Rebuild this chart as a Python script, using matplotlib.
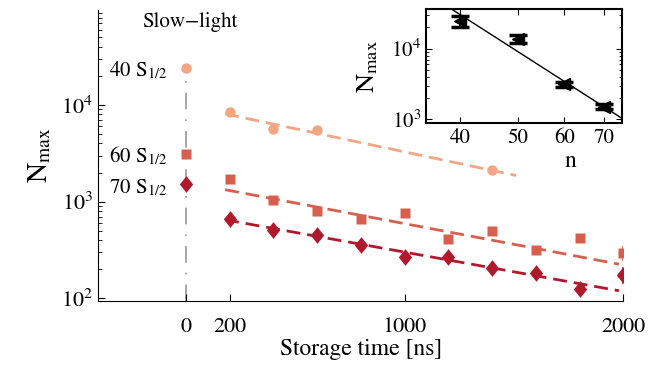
import numpy as np
import matplotlib
matplotlib.use("Agg")
import matplotlib.pyplot as plt
from matplotlib.ticker import NullLocator, FixedLocator, FixedFormatter

plt.rcParams['font.family'] = ['STIXGeneral', 'DejaVu Serif']
plt.rcParams['mathtext.fontset'] = 'stix'

# slow-light values (t = 0) for 40, 60, 70 S1/2
slow_labels = ['40 S$_{1/2}$', '60 S$_{1/2}$', '70 S$_{1/2}$']
slow_N = [24400, 3130, 1527]

# storage data
t_40 = [200, 400, 600, 1400]
N_40 = [8510, 5710, 5460, 2120]
t_all = [200, 400, 600, 800, 1000, 1200, 1400, 1600, 1800, 2000]
N_60 = [1720, 1050, 793, 667, 757, 413, 500, 320, 423, 296]
err_60 = [60, 40, 30, 25, 30, 20, 25, 20, 45, 50]
N_70 = [662, 504, 452, 360, 267, 271, 208, 182, 125, 175]
err_70 = [25, 20, 18, 15, 12, 12, 10, 10, 8, 35]

# exponential fits (straight on log axis), endpoints
fit_t40 = [180, 1510]
fit_N40 = [8090, 1866]
fit_t60 = [180, 1980]
fit_N60 = [1330, 226]
fit_t70 = [180, 1980]
fit_N70 = [650, 120]

# inset: N_max vs n
n_vals = [40, 50, 60, 70]
n_N = [24900, 13700, 3130, 1507]
n_err = [4400, 1700, 250, 120]
fit_n = [35, 75]
fit_nN = [6.2e4, 1.04e3]

c40 = '#F4A582'
c60 = '#D6604D'
c70 = '#B2182B'
diamond = [(0, 1), (0.8, 0), (0, -1), (-0.8, 0), (0, 1)]

fig = plt.figure(figsize=(6.64, 3.66), dpi=100)
ax = fig.add_axes([0.148, 0.1776, 0.7907, 0.7951])
ax.set_yscale('log')
ax.set_xlim(-400, 2000)
ax.set_ylim(94, 9.6e4)

# slow-light guide line and points
ax.vlines(0, ax.get_ylim()[0], slow_N[0], colors='#9a9a9a', lw=1.2,
          linestyles=[(0, (10, 6, 1, 6))], zorder=1)
ax.plot(0, slow_N[0], 'o', color=c40, ms=7.5, mec='none')
ax.plot(0, slow_N[1], 's', color=c60, ms=6.5, mec='none')
ax.plot(0, slow_N[2], marker=diamond, color=c70, ms=12, mec='none', ls='none')
for lab, v in zip(slow_labels, slow_N):
    ax.annotate(lab, xy=(0, v), xytext=(-13, -6.5), textcoords='offset points',
                ha='right', va='baseline', fontsize=15)
ax.text(20, 7.2e4, 'Slow\u2212light', ha='center', va='center', fontsize=15)

# fits
ax.plot(fit_t40, fit_N40, color=c40, lw=2, ls=(0, (5, 2.5)))
ax.plot(fit_t60, fit_N60, color=c60, lw=2, ls=(0, (5, 2.5)))
ax.plot(fit_t70, fit_N70, color=c70, lw=2, ls=(0, (5, 2.5)))

# data
ax.plot(t_40, N_40, 'o', color=c40, ms=7.5, mec='none')
ax.errorbar(t_all, N_60, yerr=err_60, fmt='s', color=c60, ms=6.5, mec='none',
            elinewidth=1.2, capsize=0)
ax.errorbar(t_all, N_70, yerr=err_70, fmt='none', ecolor=c70,
            elinewidth=1.2, capsize=0)
ax.plot(t_all, N_70, marker=diamond, color=c70, ms=12, mec='none', ls='none')

ax.set_xticks([0, 200, 1000, 2000])
ax.set_xticklabels(['0', '200', '1000', '2000'])
ax.tick_params(which='both', direction='in', labelsize=16)
ax.tick_params(which='major', length=5)
ax.tick_params(which='minor', length=3)
ax.tick_params(axis='x', pad=12)
ax.spines['top'].set_visible(False)
ax.spines['right'].set_visible(False)
ax.set_xlabel('Storage time [ns]', fontsize=17, labelpad=1)
ax.set_ylabel(r'N$_{\rm max}$', fontsize=20, labelpad=6)

# inset
axi = fig.add_axes([0.6416, 0.6631, 0.2947, 0.3123])
axi.set_xscale('log')
axi.set_yscale('log')
axi.set_xlim(35, 75)
axi.set_ylim(880, 3.65e4)
axi.plot(fit_n, fit_nN, color='k', lw=1)
axi.errorbar(n_vals, n_N, yerr=n_err, fmt='<', color='k', ms=8.5,
             capsize=6.5, capthick=2.5, elinewidth=1.5)
axi.xaxis.set_major_locator(FixedLocator(n_vals))
axi.xaxis.set_major_formatter(FixedFormatter([str(v) for v in n_vals]))
axi.xaxis.set_minor_locator(NullLocator())
axi.tick_params(which='both', direction='in', top=True, right=True, labelsize=15)
axi.tick_params(which='major', length=4)
axi.tick_params(which='minor', length=2)
for s in axi.spines.values():
    s.set_linewidth(1.5)
axi.text(0.736, -0.33, 'n', transform=axi.transAxes, ha='center', va='center',
         fontsize=17)
axi.set_ylabel(r'N$_{\rm max}$', fontsize=19, labelpad=8)

fig.savefig('out.png', dpi=100)
